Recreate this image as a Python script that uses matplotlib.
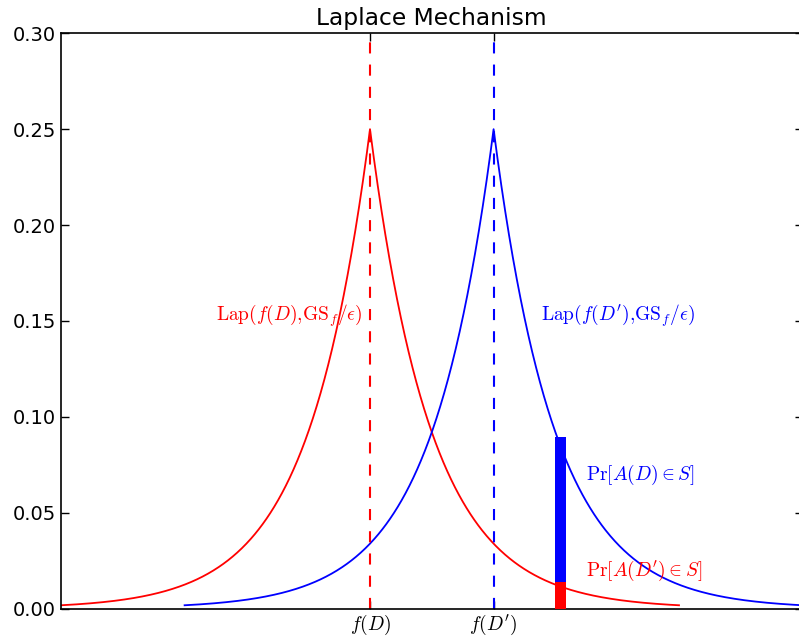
import numpy as np
import matplotlib
matplotlib.use("Agg")
import matplotlib.pyplot as plt

# ==========================================
# DATA
# ==========================================
center_D = 0.0        # f(D)
center_Dp = 4.0       # f(D')
scale_b = 2.0         # GS_f / epsilon
half_span = 10.0      # each curve drawn over center +/- half_span

bar_x = 6.0           # left edge of the S interval
bar_width = 0.35
bar_red_top = 0.0137  # Pr[A(D') in S]
bar_blue_top = 0.0897 # Pr[A(D) in S]

xtick_pos = [center_D, center_Dp]
xtick_labels = [r"$f(D)$", r"$f(D')$"]
yticks = [0.00, 0.05, 0.10, 0.15, 0.20, 0.25, 0.30]

plt.rcParams["font.size"] = 14
plt.rcParams["mathtext.fontset"] = "cm"
plt.rcParams["lines.scale_dashes"] = False
plt.rcParams["axes.linewidth"] = 1.2


def laplace_pdf(x, mu, b):
    return np.exp(-np.abs(x - mu) / b) / (2 * b)


fig = plt.figure(figsize=(7.99, 6.41), dpi=100)
ax = fig.add_axes([61 / 799, 32.5 / 641, 741.6 / 799, 575.2 / 641])

xs_D = np.linspace(center_D - half_span, center_D + half_span, 801)
xs_Dp = np.linspace(center_Dp - half_span, center_Dp + half_span, 801)
ax.plot(xs_D, laplace_pdf(xs_D, center_D, scale_b), color="red", lw=1.3)
ax.plot(xs_Dp, laplace_pdf(xs_Dp, center_Dp, scale_b), color="blue", lw=1.3)

# vertical dashed markers at f(D) and f(D')
ax.plot([center_D, center_D], [0, 0.30], color="red", lw=1.5, dashes=(8, 8))
ax.plot([center_Dp, center_Dp], [0, 0.30], color="blue", lw=1.5, dashes=(8, 8))

ax.bar(bar_x, bar_blue_top - bar_red_top, width=bar_width, bottom=bar_red_top,
       align="edge", color="blue", edgecolor="none", zorder=3)
ax.bar(bar_x, bar_red_top, width=bar_width, align="edge",
       color="red", edgecolor="none", zorder=3)

ax.text(-5.0, 0.15, r"$\mathrm{Lap}(f(D){,}\mathrm{GS}_f/\epsilon)$", color="red")
ax.text(5.55, 0.15, r"$\mathrm{Lap}(f(D'){,}\mathrm{GS}_f/\epsilon)$", color="blue")
ax.text(7.0, 0.067, r"$\mathrm{Pr}[A(D)\in S]$", color="blue")
ax.text(7.0, 0.017, r"$\mathrm{Pr}[A(D')\in S]$", color="red")

ax.set_xlim(-10, 14)
ax.set_ylim(0, 0.30)
ax.set_xticks(xtick_pos)
ax.set_xticklabels(xtick_labels)
ax.set_yticks(yticks)
ax.set_yticklabels([f"{v:.2f}" for v in yticks])
ax.tick_params(direction="in", top=True, right=True, length=6, width=1)
ax.set_title("Laplace Mechanism", fontsize=16.8)

fig.savefig("out.png", dpi=100)
